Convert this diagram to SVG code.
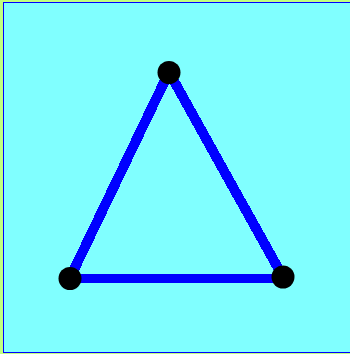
<svg xmlns="http://www.w3.org/2000/svg" width="350" height="354" viewBox="0 0 350 354">
<style>
.edge{stroke:#0000ff;stroke-width:10;fill:none;stroke-linecap:butt}
.base{stroke-width:9}
.vertex{fill:#000000}
</style>
<rect x="0" y="0" width="350" height="354" fill="#c0ff80"/>
<rect x="3.5" y="2.5" width="350" height="350" fill="#80ffff" stroke="#0000ff" stroke-width="1" shape-rendering="crispEdges"/>
<g id="connectors" shape-rendering="crispEdges">
<line class="edge" x1="169" y1="72" x2="70" y2="278"/>
<line class="edge" x1="169" y1="72" x2="283" y2="277"/>
<line class="edge base" x1="70" y1="278.5" x2="283" y2="278.5"/>
</g>
<g id="node-top"><circle class="vertex" cx="169" cy="72.5" r="11.5"/></g>
<g id="node-left"><circle class="vertex" cx="70" cy="278.5" r="11.5"/></g>
<g id="node-right"><circle class="vertex" cx="283" cy="277" r="11.5"/></g>
</svg>
